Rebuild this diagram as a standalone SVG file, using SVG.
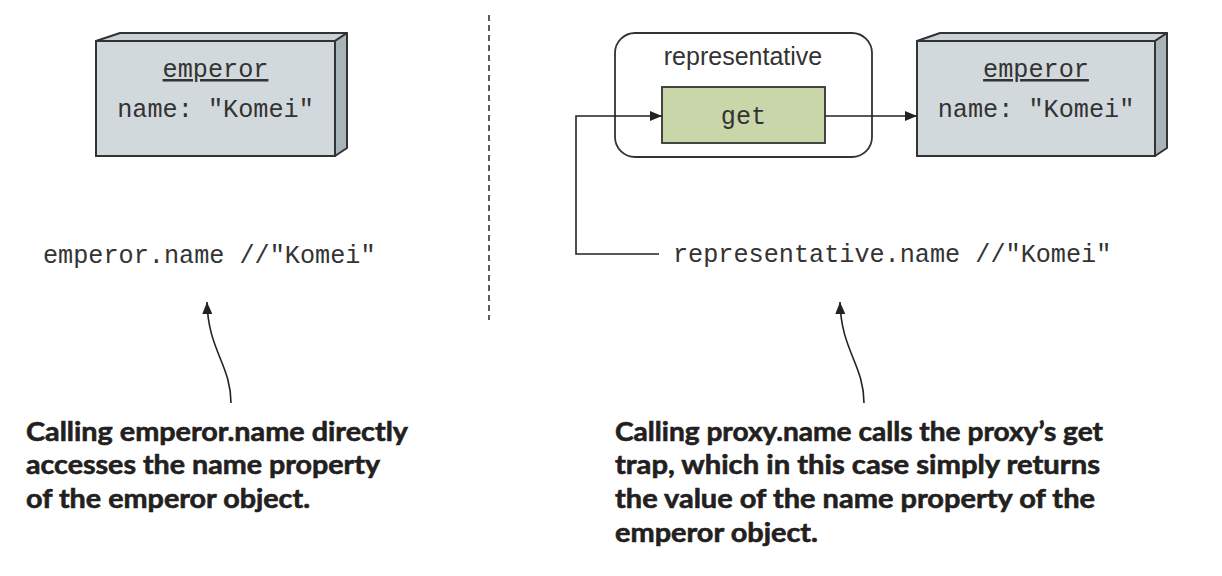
<svg xmlns="http://www.w3.org/2000/svg" width="1222" height="576" viewBox="0 0 1222 576">
<defs>
<style>
.mono{font-family:"Liberation Mono","Courier New",monospace;font-size:25.2px;fill:#333;}
.sans{font-family:"Liberation Sans",Arial,sans-serif;font-size:25px;fill:#333;}
.note{font-family:Lato,"Liberation Sans",sans-serif;font-weight:bold;font-size:26px;fill:#231f20;stroke:#231f20;stroke-width:0.6;}
.front{fill:#d2d9dc;stroke:#333;stroke-width:2;}
.top{fill:#c9d1d4;stroke:#333;stroke-width:2;stroke-linejoin:round;}
.side{fill:#a9b4b8;stroke:#333;stroke-width:2;stroke-linejoin:round;}
.conn{fill:none;stroke:#222;stroke-width:1.6;}
</style>
<marker id="arr" viewBox="0 0 12 10" refX="12" refY="5" markerWidth="12" markerHeight="10" markerUnits="userSpaceOnUse" orient="auto">
<path d="M0,0 L12,5 L0,10 Z" fill="#222"/>
</marker>
</defs>
<rect width="1222" height="576" fill="#fff"/>

<g id="emperor-left">
<polygon class="top" points="96,41 120,33 347,33 335,41"/>
<polygon class="side" points="335,41 347,33 347,148 335,156"/>
<rect class="front" x="96" y="41" width="239" height="115"/>
<text class="mono" x="215.5" y="77" text-anchor="middle" text-decoration="underline">emperor</text>
<text class="mono" x="215.5" y="117" text-anchor="middle">name: "Komei"</text>
</g>

<g id="emperor-right">
<polygon class="top" points="917,41 940,33 1167,33 1155,41"/>
<polygon class="side" points="1155,41 1167,33 1167,148 1155,156"/>
<rect class="front" x="917" y="41" width="238" height="115"/>
<text class="mono" x="1036" y="77" text-anchor="middle" text-decoration="underline">emperor</text>
<text class="mono" x="1036" y="117" text-anchor="middle">name: "Komei"</text>
</g>

<g id="representative">
<rect x="615" y="33" width="257" height="124" rx="20" fill="#fff" stroke="#333" stroke-width="1.8"/>
<text class="sans" x="743" y="65" text-anchor="middle">representative</text>
</g>

<g id="get">
<rect x="662" y="87" width="163" height="56" fill="#c9d6aa" stroke="#333" stroke-width="1.8"/>
<text class="mono" x="743.5" y="124" text-anchor="middle">get</text>
</g>

<g id="code-left">
<text class="mono" x="43" y="263">emperor.name //"Komei"</text>
</g>

<g id="code-right">
<text class="mono" x="673" y="262">representative.name //"Komei"</text>
</g>

<g id="note-left">
<text class="note" x="26" y="441" textLength="382" lengthAdjust="spacingAndGlyphs">Calling emperor.name directly</text>
<text class="note" x="26" y="474" textLength="354" lengthAdjust="spacingAndGlyphs">accesses the name property</text>
<text class="note" x="26" y="508" textLength="284" lengthAdjust="spacingAndGlyphs">of the emperor object.</text>
</g>

<g id="note-right">
<text class="note" x="615" y="441" textLength="488" lengthAdjust="spacingAndGlyphs">Calling proxy.name calls the proxy’s get</text>
<text class="note" x="615" y="474" textLength="485" lengthAdjust="spacingAndGlyphs">trap, which in this case simply returns</text>
<text class="note" x="615" y="508" textLength="480" lengthAdjust="spacingAndGlyphs">the value of the name property of the</text>
<text class="note" x="615" y="542" textLength="203" lengthAdjust="spacingAndGlyphs">emperor object.</text>
</g>

<g id="connectors">
<path class="conn" d="M659,254 H576 V116 H662" marker-end="url(#arr)"/>
<path class="conn" d="M825,116 H917" marker-end="url(#arr)"/>
<line x1="489" y1="15" x2="489" y2="320" stroke="#333" stroke-width="1.6" stroke-dasharray="6 4"/>
<path class="conn" d="M231,403 C231,365 208,350 207,302" marker-end="url(#arr)"/>
<path class="conn" d="M864,403 C864,365 841,350 840,302" marker-end="url(#arr)"/>
</g>
</svg>
